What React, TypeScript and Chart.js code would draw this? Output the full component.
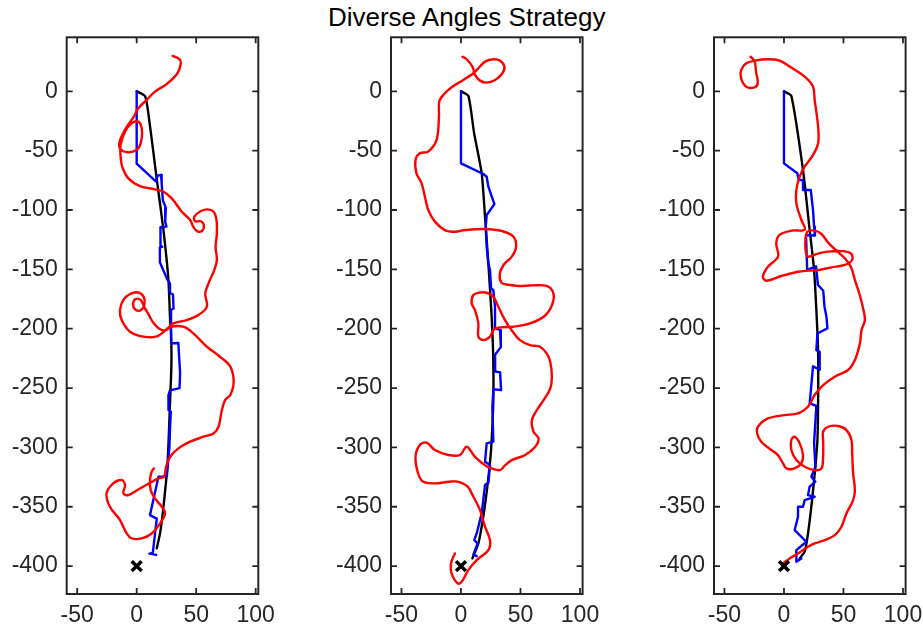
import React, { useEffect, useRef } from "react";
import { Chart, registerables } from "chart.js";

Chart.register(...registerables);

type P = [number, number];

const titleText = "Diverse Angles Strategy";
const xTickValues = [-50, 0, 50, 100];
const yTickValues = [-400, -350, -300, -250, -200, -150, -100, -50, 0];
const xLimits = [-58.8, 102.2];
const yLimits = [-423.5, 45.5];
const targetPoint: P[] = [[0, -400]];

// Panel 1
const red1: P[] = [
  [30.3, 29.8], [36, 27], [37.1, 23.6], [34.3, 15.2], [25.3, 6.2], [15.4, -0.3], [8.4, -7.3], [1.4, -14.3],
  [-2.8, -22], [-8.4, -30], [-13.5, -40], [-14.6, -46.6], [-11.2, -50.5], [-4.2, -51], [1.4, -48], [4.2, -40],
  [4.2, -31], [1.4, -25.6], [-4.2, -27], [-9.8, -34], [-13.5, -45], [-13.5, -55], [-12, -64], [-7, -73.3],
  [2.8, -79.8], [15.4, -82.6], [22.5, -84.6], [29.5, -90.2], [37.9, -101.4], [44.9, -108.4], [47.5, -114],
  [51, -118], [55, -117.5], [56.5, -113], [54, -109.5], [49, -109.5], [48.5, -105.5], [53, -101.5], [59, -99.5],
  [64.6, -101.5], [67, -108], [67.4, -119.7], [66.3, -131], [67.4, -142], [65.2, -150.6], [60.4, -161.8],
  [57.6, -170.2], [59, -181.5], [51.8, -188.5], [42, -192.7], [30.8, -195.5], [25.2, -200.5], [16.8, -206.5],
  [5.6, -206.7], [-5.6, -202.5], [-12.6, -192.7], [-14, -184.3], [-11.2, -175.8], [-5.6, -170.8], [1.4, -169.5],
  [6, -173.5], [6.5, -179.5], [3.5, -184.5], [-1, -184], [-3, -179.5], [-1, -175], [3.5, -176], [6.5, -182],
  [10, -188], [14, -195], [19, -200], [24, -201.5], [29.4, -198.3], [39.2, -198.3], [47.6, -203.9], [58.8, -215],
  [70, -223.6], [78.7, -232], [81.5, -244.7], [78.7, -255.9], [74.4, -260], [71.6, -268.5], [68.8, -282.6],
  [64.6, -288.2], [56.2, -291], [44.9, -295.2], [35.1, -300.8], [28.1, -307.9], [24.7, -316.3], [23, -324.7],
  [18.3, -326.1], [2.8, -334.6], [-7, -340.2], [-11.2, -338.8], [-9.8, -331.7], [-12.6, -327.5], [-19.7, -330.3],
  [-25.3, -338.8], [-22.5, -350], [-14, -361.2], [-8.4, -372.5], [-4.2, -376.7], [4.2, -376.7], [12.6, -372.5],
  [19.7, -364], [23.9, -355.6], [21.1, -350], [15.4, -343], [11.8, -336], [11.2, -327.5], [12.6, -320.5], [14.6, -317.7],
];
const blue1: P[] = [
  [0, 0], [0, -61], [16.3, -76], [17.5, -71], [20.5, -70.5], [21, -77.5], [22, -92], [24.5, -98], [24, -110],
  [25, -114], [20, -114.5], [20, -130], [21.5, -131], [19.5, -131.5], [19.5, -144], [25.5, -158], [28, -162],
  [28, -170], [30.5, -171], [31, -183], [28.9, -184], [28.9, -212.4], [35, -212], [36.5, -237.6], [36, -250],
  [28, -252], [26.7, -256], [26.7, -268.5], [28.7, -270], [28, -284], [27.5, -300], [25.3, -324.7], [18.3, -324.7],
  [11.2, -357], [16.9, -360], [13.5, -389], [10.7, -389.5], [16.5, -390.5],
];
const black1: P[] = [
  [0, 0], [7, -4], [10, -20], [17, -75], [22.5, -117], [26.7, -159], [28, -190], [28.9, -204], [29.2, -230],
  [28.1, -260], [27, -290], [25.8, -316], [22.5, -350], [19.7, -372], [16.9, -385],
];

// Panel 2
const red2: P[] = [
  [1.4, 29.2], [4.8, 27], [9.6, 20.8], [11.8, 13.8], [16, 9], [21.6, 7.3], [28.7, 9.6], [34.8, 15.2], [36.5, 20.8],
  [32.9, 25.8], [27.2, 27], [20.2, 25], [14.6, 19.4], [9.6, 14.6], [2, 9.6], [-7.9, 3.4], [-14.9, -3.1],
  [-18.3, -8.7], [-18.5, -21.3], [-20.5, -41], [-27.5, -50.8], [-34.6, -52.2], [-38.2, -57.9], [-37.4, -69.1],
  [-33.1, -77.5], [-30.3, -88.8], [-27.5, -100], [-21.9, -109.8], [-13.5, -116.9], [-5.1, -118.3], [3.4, -116.9],
  [20.2, -116], [34.3, -117.7], [44.1, -122.5], [46.3, -131], [42.7, -139.3], [35.7, -146.3], [32.5, -154.8],
  [34.3, -161.5], [40, -163], [48.3, -164], [60, -163.5], [72, -164], [77.6, -170], [76.5, -180], [70, -189.5],
  [58, -195.5], [44, -198.3], [32.8, -198.9], [27.2, -201], [24.4, -206.7], [18.8, -209.6], [14.6, -206.7],
  [14.6, -195.5], [11.8, -184.3], [9, -178.7], [10.4, -171.6], [16, -169.5], [21.6, -169.7], [27.2, -173],
  [31.4, -181.5], [37, -192.7], [42.6, -201.3], [49.6, -209.6], [58, -213.8], [66.4, -215.2], [72, -220.8],
  [75, -227.8], [76.4, -240.6], [75, -250.4], [69.4, -260.2], [63.8, -268.5], [59.6, -277], [61, -286.8],
  [65.2, -292.4], [62.4, -299.4], [53.9, -306.4], [42.7, -310.7], [37.1, -315], [32.9, -319.1], [25.8, -317.7],
  [20.2, -315], [11.8, -308], [4.8, -299.4], [-0.8, -306.4], [-10.7, -306.4], [-21.9, -302.2], [-29, -296],
  [-34.6, -298], [-38.2, -307.9], [-36, -322], [-31.7, -329], [-21.9, -330.3], [-9.8, -328.9], [-2.8, -328.9],
  [5.6, -333.1], [10.4, -341.6], [16, -352.8], [20.2, -366.8], [24.4, -378.1], [23, -386.5], [13.2, -395],
  [6.2, -403.4], [0.6, -413.2], [-2.8, -414.6], [-7.9, -406.2], [-8.4, -397.8], [-5.1, -389.3],
];
const blue2: P[] = [
  [0, 0], [0, -60.7], [18.8, -69.7], [21.6, -72], [23, -80.3], [28.1, -95], [21.6, -104.2], [20.8, -114],
  [21.6, -131], [23, -145], [24.4, -150.6], [25.3, -166], [27.2, -167.4], [28.6, -181.5], [28.6, -199.7],
  [32.8, -201], [33.5, -215.5], [28.6, -222], [28.7, -236], [32.9, -236.8], [33.7, -251.7], [27.2, -251],
  [26.4, -266], [27.2, -295.2], [21.6, -296.6], [20.2, -312], [24.4, -314.9], [23, -330], [20.2, -331.5],
  [18.8, -344], [17.4, -355.6], [13.2, -372.5], [11.2, -378], [14, -381], [10.4, -390.3], [13.2, -391.6],
];
const black2: P[] = [
  [0, 0], [6.2, -3.9], [11, -35], [17.4, -69], [20.2, -105.6], [23, -145], [25.5, -185], [27, -220],
  [27.2, -260], [25.3, -302], [22.5, -330], [18.8, -358], [14.6, -381], [9.6, -393.5],
];

// Panel 3
const red3: P[] = [
  [-28.1, 29.2], [-24.7, 25.3], [-23.3, 15.4], [-22, 7], [-24.7, 3.4], [-31.7, 3.9], [-36, 10.9], [-36, 17.9],
  [-31.7, 23.6], [-24.7, 25.8], [-13.5, 27], [-3.7, 25.8], [4.8, 20.8], [17.4, 12.4], [24.4, 3.9], [25.8, -7.3],
  [28.7, -29.8], [28.7, -43.8], [24.4, -53.7], [17.4, -63.5], [13.2, -71.9], [10.4, -83.1], [10.4, -94.4],
  [14.6, -108.4], [17.4, -116.5], [6.2, -117.4], [-3.7, -121], [-6.5, -128], [-5, -139.3], [-13.5, -147.8],
  [-17.7, -156.2], [-14.9, -159.6], [-2.2, -155.6], [11.8, -152], [20.2, -151.1], [28.7, -150.6], [39.9, -148.3],
  [51.1, -146.3], [57.3, -142.1], [56.2, -136.5], [48.3, -134.6], [37.1, -135.1], [27.2, -137.1], [20.2, -139.3],
  [18.3, -135], [18, -125.3], [19.7, -118.3], [25.8, -117.4], [31.5, -120.2], [37.1, -127.5], [44.1, -134.3],
  [51.1, -140.7], [56.2, -147.8], [59.6, -159], [63.5, -171], [66.5, -183], [68, -192.7], [65.2, -201.1],
  [63.8, -212.4], [59.6, -226.4], [53.9, -234.8], [42.7, -240.4], [32.9, -247.5], [25.8, -255.9], [20.2, -265.7],
  [11.8, -271.3], [0.6, -272.8], [-13.5, -275.6], [-21.9, -282.6], [-22.5, -288.2], [-19.1, -295.2],
  [-10.7, -302.2], [-5.1, -306.5], [-0.8, -313.5], [2, -317.7], [9, -317.7], [14.6, -313.5], [16, -306.5],
  [13.2, -296.6], [9, -291], [6.2, -293.8], [6.2, -302.2], [10.4, -310.7], [17.4, -316.3], [25.8, -319.1],
  [31.5, -317.7], [32.9, -307.9], [32.9, -293.8], [32.9, -286.8], [37.1, -282.6], [45.5, -282], [52.5, -285.4],
  [56.7, -293.8], [57.3, -305], [58.1, -321.9], [59.6, -336], [58.1, -344.4], [52.5, -355.6], [48.3, -366.8],
  [42.7, -373.9], [34.3, -378.1], [25.8, -380.9], [20.2, -383.7], [11.8, -389.3], [4.8, -393.5], [-0.8, -397.8],
];
const blue3: P[] = [
  [0, 0], [0, -60.7], [11.2, -69.1], [12.4, -74.7], [16, -74.7], [16, -83.1], [22.5, -83.1], [24.4, -100],
  [25.3, -114], [26, -121.5], [18.5, -121], [19.5, -150.5], [27, -147.5], [28.5, -163], [33, -168], [34, -181],
  [35.7, -190], [36.5, -199.7], [28.1, -204], [27.2, -218], [30, -219.4], [30, -234.6], [24.4, -231.7],
  [21.6, -263], [27.2, -265], [25.3, -296], [26.4, -316.3], [23, -324.7], [26.4, -328.9], [21.6, -333],
  [20.2, -340.2], [25.8, -341.6], [17.4, -344.4], [16, -350], [11.8, -350], [11.8, -358.4], [9, -369.7],
  [18.8, -379.5], [10.4, -386.5], [10.4, -396.3], [14.6, -393.5],
];
const black3: P[] = [
  [0, 0], [6.2, -3.9], [16, -66.3], [21.6, -116.9], [25.3, -150.6], [27.5, -190], [28.7, -220], [28.7, -260],
  [28.1, -293.8], [26.4, -316.3], [23.6, -344.4], [20.2, -372.5], [17.4, -387.9], [13.2, -393.5],
];

const FONT = "'Liberation Sans', Arial, Helvetica, sans-serif";
const AXIS_COLOR = "#262626";

const boxPlugin = {
  id: "matlabBox",
  afterDatasetsDraw(chart: any) {
    const { ctx, chartArea: a, scales } = chart;
    ctx.save();
    ctx.strokeStyle = AXIS_COLOR;
    ctx.lineWidth = 2;
    ctx.strokeRect(a.left, a.top, a.right - a.left, a.bottom - a.top);
    ctx.lineWidth = 1.8;
    ctx.beginPath();
    const tl = 6;
    for (const v of xTickValues) {
      const px = scales.x.getPixelForValue(v);
      ctx.moveTo(px, a.bottom);
      ctx.lineTo(px, a.bottom - tl);
      ctx.moveTo(px, a.top);
      ctx.lineTo(px, a.top + tl);
    }
    for (const v of yTickValues) {
      const py = scales.y.getPixelForValue(v);
      ctx.moveTo(a.left, py);
      ctx.lineTo(a.left + tl, py);
      ctx.moveTo(a.right, py);
      ctx.lineTo(a.right - tl, py);
    }
    ctx.stroke();
    ctx.restore();
  },
};

type PanelProps = { red: P[]; blue: P[]; black: P[]; areaLeft: number };

const Y_AXIS_W = 60;
const AREA_W = 191.6;
const CANVAS_W = 268;
const CANVAS_H = 632;
const AREA_TOP = 37.3;
const X_AXIS_H = 38;

function Panel({ red, blue, black, areaLeft }: PanelProps) {
  const ref = useRef<HTMLCanvasElement>(null);
  const canvasLeft = Math.floor(areaLeft - Y_AXIS_W);
  const padLeft = areaLeft - Y_AXIS_W - canvasLeft;
  const padRight = CANVAS_W - padLeft - Y_AXIS_W - AREA_W;

  useEffect(() => {
    const toXY = (a: P[]) => a.map(([x, y]) => ({ x, y }));
    const lineCommon = {
      showLine: true,
      borderWidth: 2.4,
      pointRadius: 0,
      pointHoverRadius: 0,
      pointHitRadius: 0,
      borderCapStyle: "round",
      borderJoinStyle: "round",
      fill: false,
    };
    const chart = new Chart(ref.current as HTMLCanvasElement, {
      type: "scatter",
      data: {
        datasets: [
          {
            data: toXY(targetPoint),
            showLine: false,
            pointStyle: "crossRot",
            pointRadius: 7,
            pointBorderWidth: 3.5,
            pointBorderColor: "#000000",
            pointBackgroundColor: "#000000",
          } as any,
          { ...lineCommon, data: toXY(red), borderColor: "#ff0000", tension: 0.35 } as any,
          { ...lineCommon, data: toXY(blue), borderColor: "#0000ff", tension: 0 } as any,
          { ...lineCommon, data: toXY(black), borderColor: "#000000", tension: 0.2 } as any,
        ],
      },
      options: {
        animation: false,
        responsive: false,
        maintainAspectRatio: false,
        events: [],
        layout: { padding: { left: padLeft, right: padRight, top: AREA_TOP, bottom: 0 } },
        plugins: { legend: { display: false }, tooltip: { enabled: false }, title: { display: false } },
        scales: {
          x: {
            type: "linear",
            position: "bottom",
            min: xLimits[0],
            max: xLimits[1],
            grid: { display: false, drawTicks: false },
            border: { display: false },
            afterBuildTicks: (s: any) => {
              s.ticks = xTickValues.map((v) => ({ value: v }));
            },
            afterFit: (s: any) => {
              s.height = X_AXIS_H;
              s.paddingLeft = 0;
              s.paddingRight = 0;
            },
            ticks: {
              autoSkip: false,
              maxRotation: 0,
              padding: 8,
              color: AXIS_COLOR,
              font: { family: FONT, size: 23 },
              callback: (v: any) => String(v),
            },
          },
          y: {
            type: "linear",
            position: "left",
            min: yLimits[0],
            max: yLimits[1],
            grid: { display: false, drawTicks: false },
            border: { display: false },
            afterBuildTicks: (s: any) => {
              s.ticks = yTickValues.map((v) => ({ value: v }));
            },
            afterFit: (s: any) => {
              s.width = Y_AXIS_W;
              s.paddingTop = 0;
              s.paddingBottom = 0;
            },
            ticks: {
              autoSkip: false,
              padding: 9,
              color: AXIS_COLOR,
              font: { family: FONT, size: 23 },
              callback: (v: any) => String(v),
            },
          },
        },
      } as any,
      plugins: [boxPlugin],
    });
    return () => chart.destroy();
  }, []);

  return (
    <canvas
      ref={ref}
      width={CANVAS_W}
      height={CANVAS_H}
      style={{ position: "absolute", left: canvasLeft, top: 0, width: CANVAS_W, height: CANVAS_H }}
    />
  );
}

const panels = [
  { red: red1, blue: blue1, black: black1, areaLeft: 66.7 },
  { red: red2, blue: blue2, black: black2, areaLeft: 391 },
  { red: red3, blue: blue3, black: black3, areaLeft: 714 },
];

export default function App() {
  return (
    <div
      style={{
        position: "absolute",
        left: 0,
        top: 0,
        width: 923,
        height: 632,
        overflow: "hidden",
        background: "#ffffff",
      }}
    >
      <div
        style={{
          position: "absolute",
          left: 0,
          top: 4,
          width: 933.4,
          textAlign: "center",
          fontFamily: FONT,
          fontSize: 26,
          lineHeight: "26px",
          color: "#000000",
          whiteSpace: "nowrap",
        }}
      >
        {titleText}
      </div>
      {panels.map((p, i) => (
        <Panel key={i} {...p} />
      ))}
    </div>
  );
}
